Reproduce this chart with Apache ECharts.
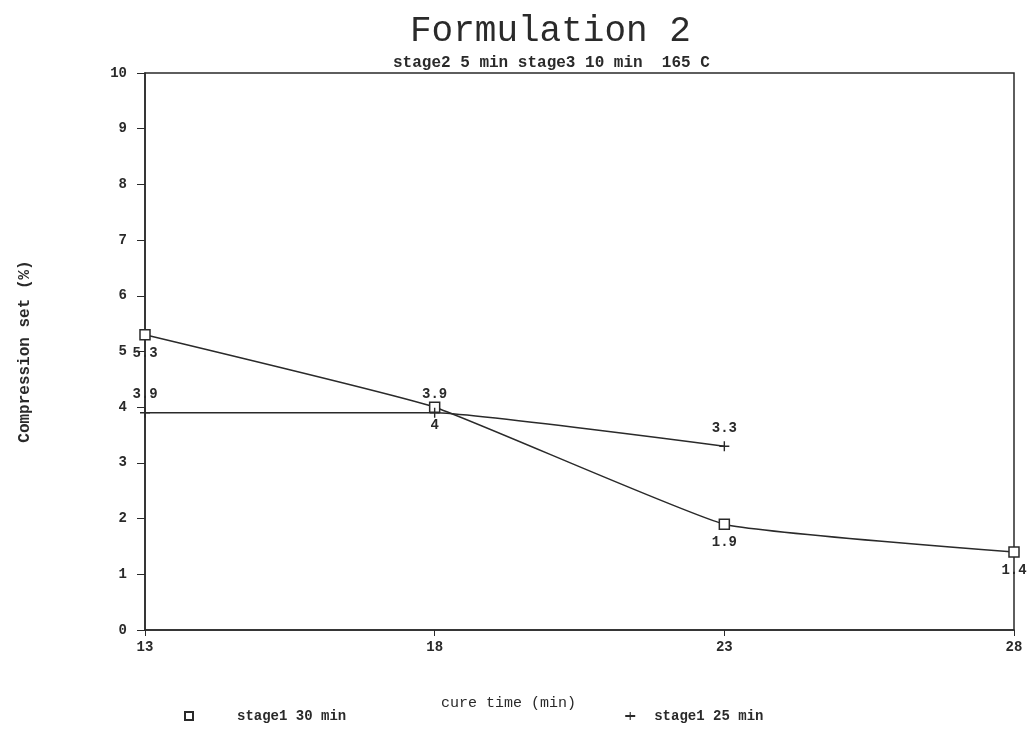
<!DOCTYPE html>
<html>
<head>
<meta charset="utf-8">
<script src="https://cdn.jsdelivr.net/npm/echarts@6/dist/echarts.min.js"></script>
<style>
  html, body { margin: 0; padding: 0; background: #fff; }
  #chart { width: 1029px; height: 734px; }
</style>
</head>
<body>
<div id="chart"></div>
<script>
// cure time categories (min)
const cureTimes = ['13', '18', '23', '28']
// compression set (%)
const stage1_30 = [5.3, 4, 1.9, 1.4]
const stage1_25 = [3.9, 3.9, 3.3]
const yTicks = { min: 0, max: 10, step: 1 }

const mono = 'Liberation Mono'
const ink = '#2a2a2a'
const plusPath = 'path://M4.3,0H5.7V4.3H10V5.7H5.7V10H4.3V5.7H0V4.3H4.3Z'

const chart = echarts.init(document.getElementById('chart'))
const option = {
  backgroundColor: '#fff',
  title: [
    {
      text: 'Formulation 2',
      left: 405,
      top: 8,
      textStyle: { fontFamily: mono, fontSize: 36, fontWeight: 'normal', color: ink }
    },
    {
      text: 'stage2 5 min stage3 10 min  165 C',
      left: 388,
      top: 50,
      textStyle: { fontFamily: mono, fontSize: 16, fontWeight: 'bold', color: ink }
    }
  ],
  grid: {
    left: 145, right: 15, top: 73, bottom: 104,
    show: true, borderColor: ink, borderWidth: 1.5
  },
  legend: {
    bottom: 6,
    left: 178,
    itemGap: 278,
    itemWidth: 10,
    itemHeight: 10,
    textStyle: { fontFamily: mono, fontSize: 14, fontWeight: 'bold', color: ink, padding: [0, 0, 0, 38] },
    data: [
      { name: 'stage1 30 min' },
      { name: 'stage1 25 min', textStyle: { padding: [0, 0, 0, 14] } }
    ]
  },
  xAxis: {
    type: 'category',
    data: cureTimes,
    boundaryGap: false,
    name: 'cure time (min)',
    nameLocation: 'middle',
    nameGap: 66,
    nameTextStyle: { fontFamily: mono, fontSize: 15, color: ink, padding: [0, 142, 0, 0] },
    axisLine: { lineStyle: { color: ink, width: 1.5 } },
    axisTick: { inside: false, length: 6, lineStyle: { color: ink } },
    axisLabel: { fontFamily: mono, fontSize: 14, fontWeight: 'bold', color: ink, margin: 10 },
    splitLine: { show: false }
  },
  yAxis: {
    type: 'value',
    min: yTicks.min,
    max: yTicks.max,
    interval: yTicks.step,
    name: 'Compression set (%)',
    nameLocation: 'middle',
    nameGap: 112,
    nameTextStyle: { fontFamily: mono, fontSize: 16, fontWeight: 'bold', color: ink },
    axisLine: { show: true, lineStyle: { color: ink, width: 1.5 } },
    axisTick: { show: true, length: 8, lineStyle: { color: ink } },
    axisLabel: { fontFamily: mono, fontSize: 14, fontWeight: 'bold', color: ink, margin: 18 },
    splitLine: { show: false }
  },
  series: [
    {
      name: 'stage1 30 min',
      type: 'line',
      data: stage1_30,
      smooth: 0.12,
      symbol: 'rect',
      symbolSize: 10,
      lineStyle: { color: ink, width: 1.5 },
      itemStyle: { color: '#fff', borderColor: ink, borderWidth: 1.5 },
      label: {
        show: true, position: 'bottom', distance: 6,
        fontFamily: mono, fontSize: 14, fontWeight: 'bold', color: ink
      }
    },
    {
      name: 'stage1 25 min',
      type: 'line',
      data: stage1_25,
      smooth: 0.12,
      symbol: plusPath,
      symbolSize: 10,
      lineStyle: { color: ink, width: 1.5 },
      itemStyle: { color: ink },
      label: {
        show: true, position: 'top', distance: 6,
        fontFamily: mono, fontSize: 14, fontWeight: 'bold', color: ink
      }
    }
  ]
}
chart.setOption(option)
window.addEventListener('resize', () => chart.resize())
</script>
</body>
</html>
